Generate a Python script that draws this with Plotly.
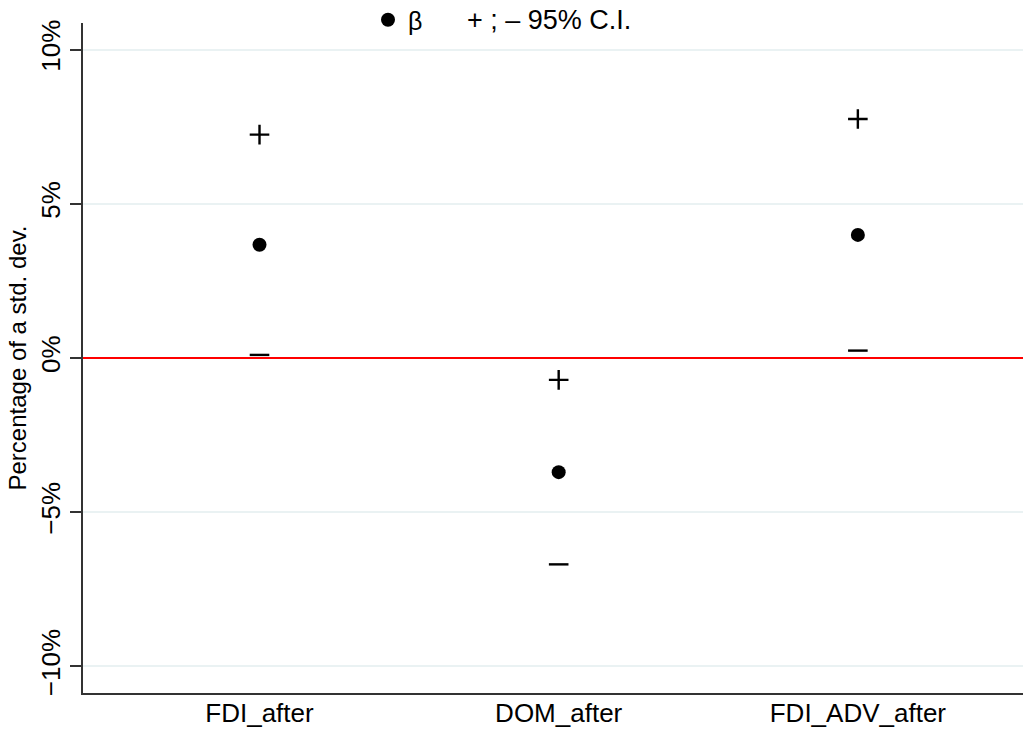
import plotly.graph_objects as go

categories = ["FDI_after", "DOM_after", "FDI_ADV_after"]
x_pos = [1, 2, 3]
beta = [3.67, -3.70, 3.99]
ci_upper = [7.24, -0.71, 7.75]
ci_lower = [0.10, -6.69, 0.24]
y_ticks = [-10, -5, 0, 5, 10]
y_tick_labels = ["\u221210%", "\u22125%", "0%", "5%", "10%"]

FONT = "Liberation Sans, Arial, Helvetica, sans-serif"

W, H = 1023, 732
L, R, T, B = 83, 0, 23, 732 - 693
PW, PH = W - L - R, H - T - B
LEG_Y = 1 + (T - 20) / PH

fig = go.Figure()
fig.add_trace(go.Scatter(
    x=x_pos, y=ci_upper, mode="markers", showlegend=False, hoverinfo="skip",
    marker=dict(symbol="cross-thin", size=14, color="black",
                line=dict(color="black", width=2.4)),
))
fig.add_trace(go.Scatter(
    x=x_pos, y=ci_lower, mode="markers", showlegend=False, hoverinfo="skip",
    marker=dict(symbol="line-ew", size=14, color="black",
                line=dict(color="black", width=2.4)),
))
fig.add_trace(go.Scatter(
    x=x_pos, y=beta, mode="markers", name="\u03b2", showlegend=True, hoverinfo="skip",
    marker=dict(symbol="circle", size=14, color="black"),
))

fig.add_annotation(
    xref="paper", yref="paper", x=(465 - L) / PW, y=LEG_Y,
    text="+ ; \u2013 95% C.I.", showarrow=False, xanchor="left", yanchor="middle",
    font=dict(family=FONT, size=27, color="black"),
)

fig.update_layout(
    width=W, height=H,
    margin=dict(l=L, r=R, t=T, b=B, pad=0, autoexpand=False),
    paper_bgcolor="white", plot_bgcolor="white",
    font=dict(family=FONT, size=22, color="black"),
    hovermode=False,
    legend=dict(
        orientation="h", x=(368 - L) / PW, y=LEG_Y,
        xanchor="left", yanchor="middle",
        font=dict(family=FONT, size=25, color="black"),
        bgcolor="rgba(0,0,0,0)", borderwidth=0,
        itemwidth=30,
    ),
    xaxis=dict(
        range=[0.41, 3.552], tickvals=x_pos, ticktext=categories,
        showgrid=False, zeroline=False, showline=True, automargin=False,
        linecolor="#333333", linewidth=2, ticks="", ticklabelstandoff=-4,
        tickfont=dict(family=FONT, size=26, color="black"),
    ),
    yaxis=dict(
        range=[-10.86, 10.86], tickvals=y_ticks, ticktext=y_tick_labels,
        tickangle=-90, showgrid=True, gridcolor="#EAF2F3", gridwidth=2,
        zeroline=True, zerolinecolor="#FF0000", zerolinewidth=2,
        showline=True, linecolor="#333333", linewidth=2, automargin=False,
        ticks="outside", ticklen=11, tickwidth=1.5, tickcolor="#333333",
        ticklabelstandoff=0,
        tickfont=dict(family=FONT, size=26, color="black"),
        title=dict(text="Percentage of a std. dev.", standoff=2,
                   font=dict(family=FONT, size=24, color="black")),
    ),
)

# remove the browser's default 8px page margin so the figure fills the window
fig.write_html("out.html", config={"displayModeBar": False},
               post_script="document.body.style.margin='0';")
